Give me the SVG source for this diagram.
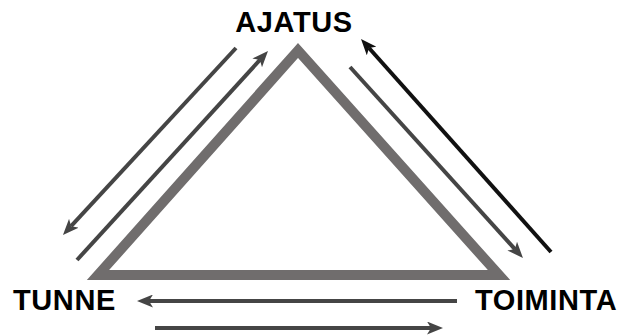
<svg xmlns="http://www.w3.org/2000/svg" width="619" height="336" viewBox="0 0 619 336">
<style>
.lbl{font-family:"Liberation Sans",Arial,sans-serif;font-weight:bold;font-size:29px;letter-spacing:0.6px;fill:#000}
.ar{stroke:#454545;stroke-width:4;fill:none;marker-end:url(#ah)}
.ark{stroke:#111;stroke-width:4;fill:none;marker-end:url(#ahk)}
</style>
<defs>
<marker id="ah" markerUnits="userSpaceOnUse" markerWidth="16" markerHeight="13" refX="4" refY="6.5" orient="auto" viewBox="0 0 16 13"><path d="M0,0 L16,6.5 L0,13 L4,6.5 z" fill="#454545"/></marker>
<marker id="ahk" markerUnits="userSpaceOnUse" markerWidth="16" markerHeight="13" refX="4" refY="6.5" orient="auto" viewBox="0 0 16 13"><path d="M0,0 L16,6.5 L0,13 L4,6.5 z" fill="#111"/></marker>
</defs>
<rect width="619" height="336" fill="#fff"/>
<g id="triangle">
<polygon points="298,50.5 98,275 499,275" fill="none" stroke="#706d6d" stroke-width="10" stroke-linejoin="miter" stroke-miterlimit="10"/>
</g>
<g id="ajatus"><text class="lbl" x="294" y="32" text-anchor="middle">AJATUS</text></g>
<g id="tunne"><text class="lbl" x="13" y="310">TUNNE</text></g>
<g id="toiminta"><text class="lbl" x="475" y="310">TOIMINTA</text></g>
<g id="connectors">
<line class="ar" x1="236" y1="48" x2="71.1" y2="226.2"/>
<line class="ar" x1="77" y1="260" x2="259.9" y2="59.9"/>
<line class="ar" x1="350" y1="67" x2="514.9" y2="249.1"/>
<line class="ark" x1="551" y1="252" x2="369" y2="48"/>
<line class="ar" x1="457" y1="301" x2="149" y2="301"/>
<line class="ar" x1="155" y1="328" x2="431" y2="328"/>
</g>
</svg>
